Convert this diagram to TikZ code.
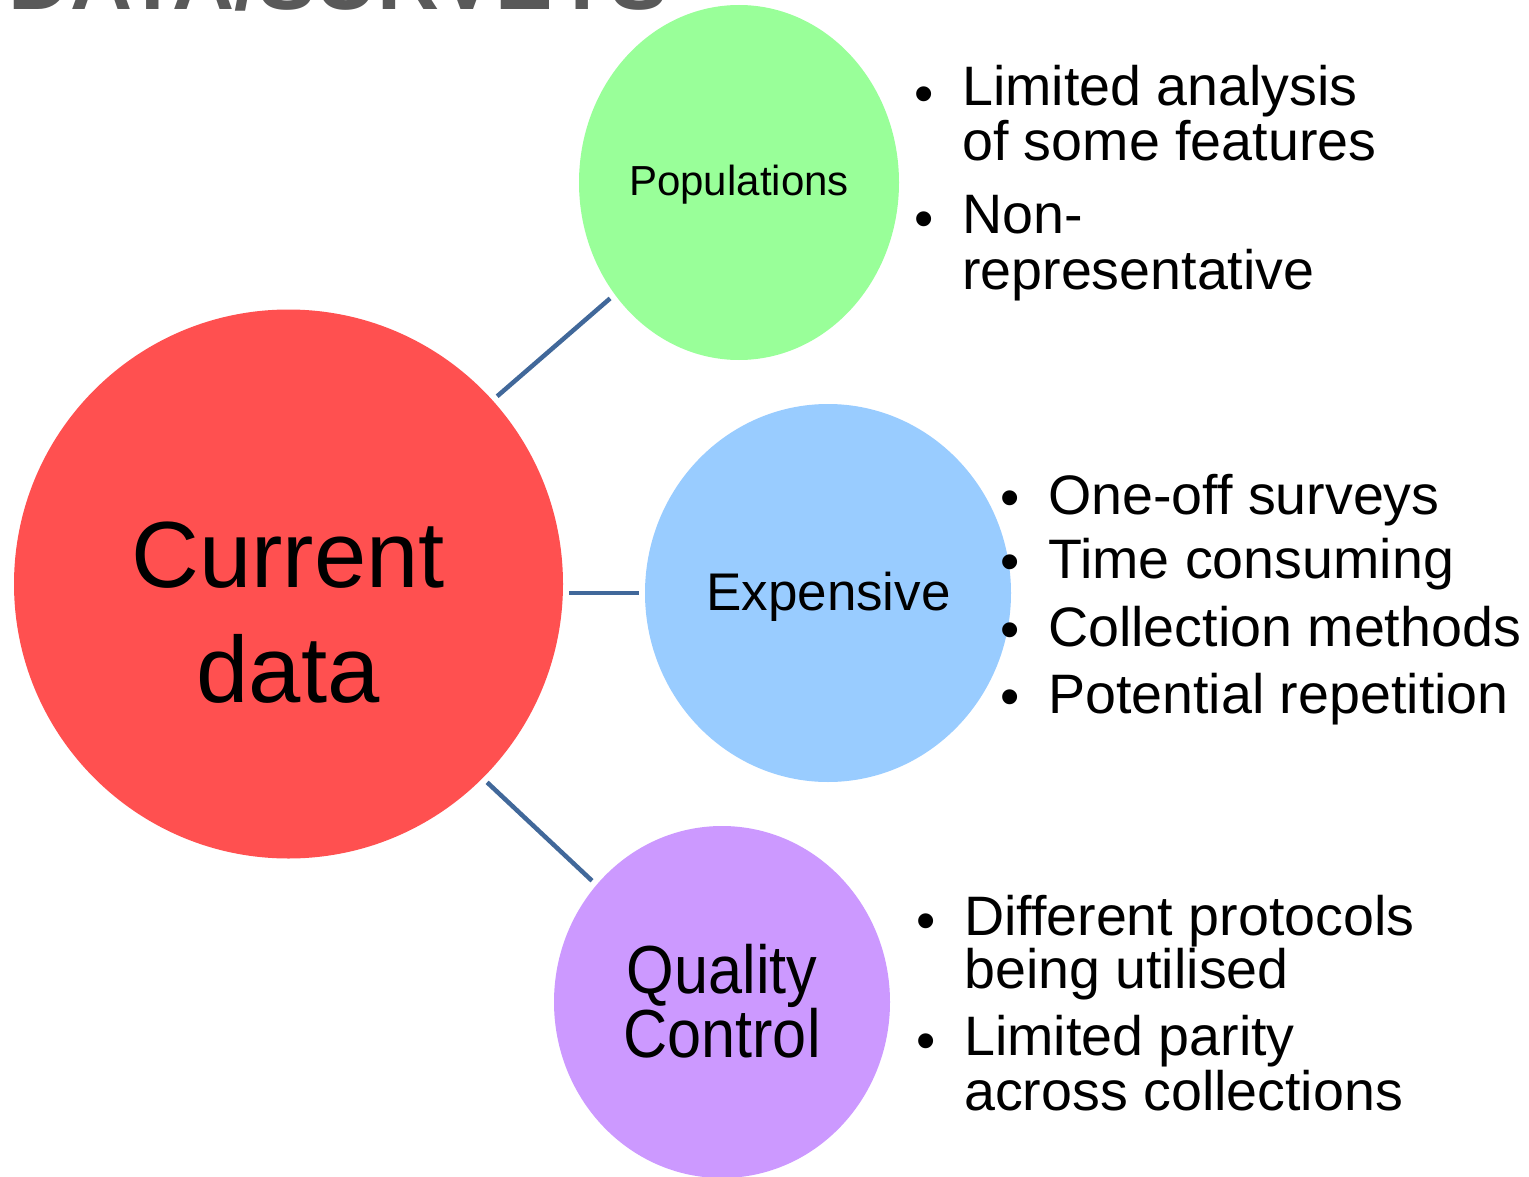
\documentclass[tikz,border=0pt]{standalone}
\usepackage{fontspec}
\setmainfont{Liberation Sans}
\usetikzlibrary{shapes.geometric}

\definecolor{bubblered}{RGB}{255,80,80}
\definecolor{bubblegreen}{RGB}{153,255,153}
\definecolor{bubbleblue}{RGB}{153,204,255}
\definecolor{bubblepurple}{RGB}{204,153,255}
\definecolor{linkblue}{RGB}{65,104,154}
\definecolor{titlegray}{RGB}{89,89,89}

\newcommand{\fs}[1]{\fontsize{#1}{#1}\selectfont}

\begin{document}
\begin{tikzpicture}[x=1pt,y=-1pt,
  bubble/.style={ellipse, inner sep=0pt, draw=none},
  conn/.style={draw=linkblue, line width=4.5pt, shorten <=6pt, shorten >=6pt},
  lbl/.style={anchor=base, inner sep=0pt, text=black},
  itemtext/.style={anchor=base west, inner sep=0pt, text=black, font=\fs{55.6}},
  bulletmark/.style={anchor=base, inner sep=0pt, text=black, font=\fs{55}}]

\useasboundingbox (0,0) rectangle (1529,1177);
\clip (0,0) rectangle (1529,1177);
\fill[white] (0,0) rectangle (1529,1177);

% heading, running off the top edge
\node[anchor=base east, inner sep=0pt, text=titlegray, font=\fs{86}\bfseries]
  (title) at (668,10) {DATA/SURVEYS};

% bubbles
\node[circle, inner sep=0pt, fill=bubblered, minimum size=549pt] (red) at (288.5,584) {};
\node[bubble, fill=bubblegreen, minimum width=320pt, minimum height=355pt] (green) at (739,182.5) {};
\node[bubble, fill=bubbleblue, minimum width=366pt, minimum height=378pt] (blue) at (828,593) {};
\node[bubble, fill=bubblepurple, minimum width=336pt, minimum height=352pt] (purple) at (722,1002) {};

% connectors
\draw[conn] (red.42) -- (green.222);
\draw[conn] (red.east |- blue.west) -- (blue.west);
\draw[conn] (red.-45) -- (purple.137);

% bubble labels
\node[lbl, font=\fs{94}] (cur1) at (288,587) {Current};
\node[lbl, font=\fs{94}] (cur2) at (288,702) {data};
\node[lbl, font=\fs{42}] (pop) at (739,196) {Populations};
\node[lbl, font=\fs{53}] (exp) at (828.5,610) {Expensive};
\node[lbl, font=\fs{68}, xscale=0.9, transform shape] (qc1) at (722,993) {Quality};
\node[lbl, font=\fs{68}, xscale=0.9, transform shape] (qc2) at (722,1057) {Control};

% notes beside Populations
\node[bulletmark] (pb1) at (924,113) {•};
\node[itemtext] (p1a) at (962,106) {Limited analysis};
\node[itemtext] (p1b) at (962,161) {of some features};
\node[bulletmark] (pb2) at (924,238) {•};
\node[itemtext] (p2a) at (962,234) {Non-};
\node[itemtext] (p2b) at (962,290) {representative};

% notes beside Expensive
\node[bulletmark] (eb1) at (1010,516) {•};
\node[itemtext] (e1) at (1048,514) {One-off surveys};
\node[bulletmark] (eb2) at (1010,580) {•};
\node[itemtext] (e2) at (1048,578) {Time consuming};
\node[bulletmark] (eb3) at (1010,648) {•};
\node[itemtext] (e3) at (1048,646) {Collection methods};
\node[bulletmark] (eb4) at (1010,715) {•};
\node[itemtext] (e4) at (1048,713) {Potential repetition};

% notes beside Quality Control
\node[bulletmark] (qb1) at (926,939) {•};
\node[itemtext] (q1a) at (964,935) {Different protocols};
\node[itemtext] (q1b) at (964,988) {being utilised};
\node[bulletmark] (qb2) at (926,1059) {•};
\node[itemtext] (q2a) at (964,1055) {Limited parity};
\node[itemtext] (q2b) at (964,1110) {across collections};

\end{tikzpicture}
\end{document}
